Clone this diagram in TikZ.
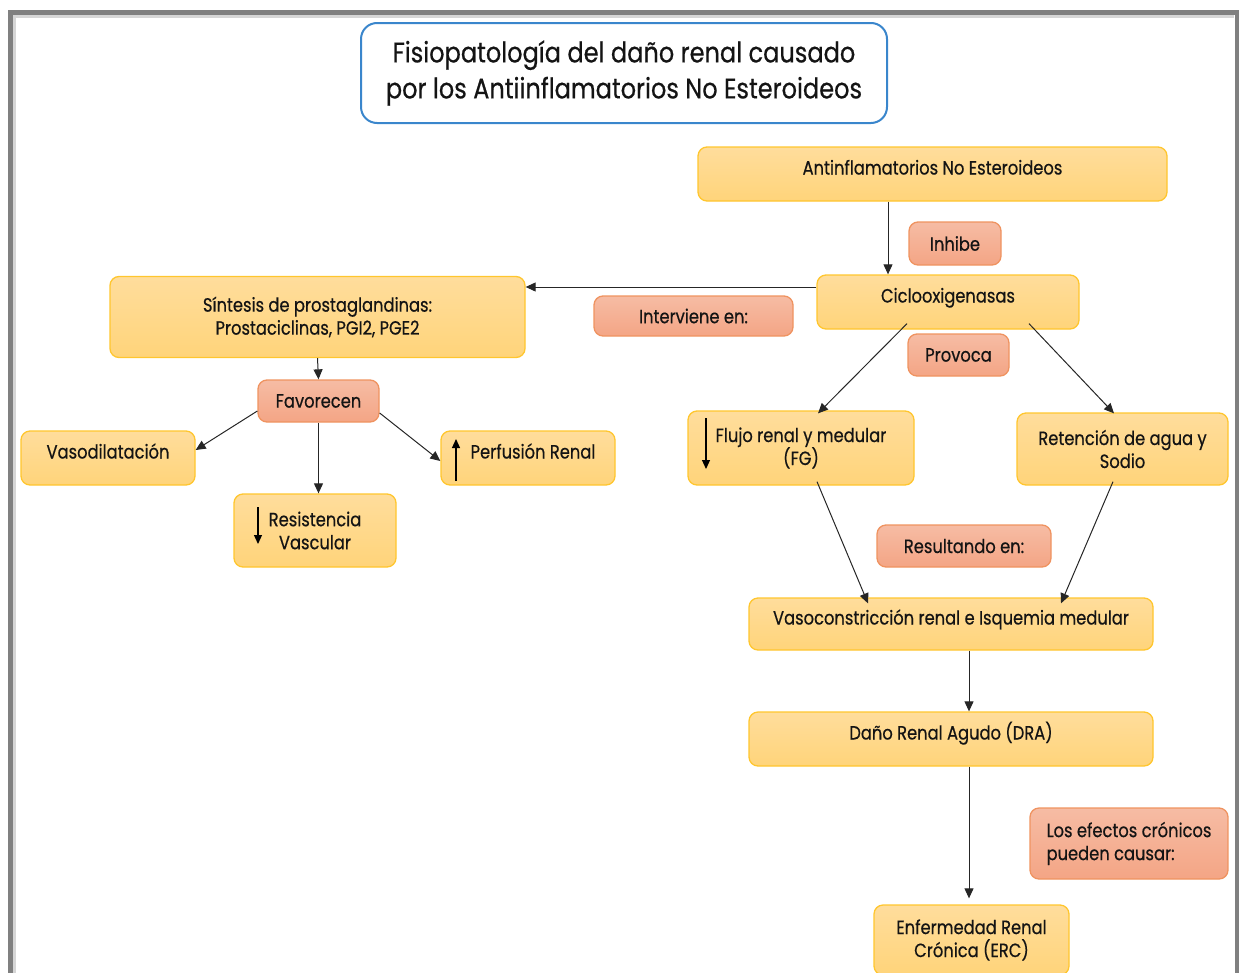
\documentclass[tikz,border=0pt]{standalone}
\usepackage{fontspec}
\setmainfont[FakeStretch=0.85,FakeBold=0.5]{Poppins}
\usetikzlibrary{arrows.meta}
\definecolor{ytop}{HTML}{FFDD9C}
\definecolor{ybot}{HTML}{FFD47A}
\definecolor{ybord}{HTML}{FFC62E}
\definecolor{stop}{HTML}{F6BCA4}
\definecolor{sbot}{HTML}{F4A585}
\definecolor{sbord}{HTML}{EF9360}
\definecolor{tblue}{HTML}{3A86CC}
\definecolor{txt}{HTML}{141414}
\definecolor{frameg}{HTML}{808080}
\definecolor{framel}{HTML}{D6D6D6}
\begin{document}
\begin{tikzpicture}[x=1pt,y=-1pt,
  box/.style={rounded corners=9pt, line width=1.3pt, text=txt, font=\fontsize{19.2}{23}\selectfont, inner sep=0pt, align=center},
  ybox/.style={box, draw=ybord, top color=ytop, bottom color=ybot},
  sbox/.style={box, draw=sbord, top color=stop, bottom color=sbot},
  lift/.style={text height=11pt, text depth=10pt},
  conn/.style={-{Triangle[length=10pt,width=9pt]}, line width=1pt, draw=black!85},
  tick/.style={-{Triangle[length=9pt,width=8pt]}, line width=1.2pt, draw=black},
]
\useasboundingbox (0,0) rectangle (1239,972);
\clip (0,0) rectangle (1239,972);
% frame
\draw[framel, line width=3pt] (14.5,1000) -- (14.5,16) -- (1234,16);
\draw[frameg, line width=5pt] (10,1000) -- (10,12.5) -- (1237,12.5) -- (1237,1000);

% title
\node[draw=tblue, line width=2pt, rounded corners=16pt, fill=white, minimum width=526pt, minimum height=100pt, font=\fontsize{28.3}{36}\selectfont, align=center, text=txt, inner sep=0pt] (title) at (624,73) {Fisiopatología del daño renal causado\\por los Antiinflamatorios No Esteroideos};

% yellow boxes
\node[ybox, lift, minimum width=469pt, minimum height=54pt] (aine) at (932.5,174) {Antinflamatorios No Esteroideos};
\node[ybox, lift, minimum width=262pt, minimum height=54pt] (ciclo) at (948,302) {Ciclooxigenasas};
\node[ybox, minimum width=415pt, minimum height=81pt] (sint) at (317.5,317) {Síntesis de prostaglandinas:\\Prostaciclinas, PGI2, PGE2};
\node[ybox, lift, minimum width=174pt, minimum height=54pt] (vaso) at (108,458) {Vasodilatación};
\node[ybox, minimum width=162pt, minimum height=73pt] (res) at (315,530.5) {Resistencia\\Vascular};
\node[ybox, lift, minimum width=174pt, minimum height=54pt] (perf) at (528,458) {\hspace*{10pt}Perfusión Renal};
\node[ybox, minimum width=226pt, minimum height=74pt] (flujo) at (801,448) {Flujo renal y medular\\(FG)};
\node[ybox, minimum width=211pt, minimum height=72pt] (ret) at (1122.5,449) {Retención de agua y\\Sodio};
\node[ybox, lift, minimum width=404pt, minimum height=52pt] (vasoc) at (951,624) {Vasoconstricción renal e Isquemia medular};
\node[ybox, lift, minimum width=404pt, minimum height=54pt] (dra) at (951,739) {Daño Renal Agudo (DRA)};
\node[ybox, minimum width=195pt, minimum height=70pt] (erc) at (971.5,940) {Enfermedad Renal\\Crónica (ERC)};

% salmon boxes
\node[sbox, minimum width=92pt, minimum height=43pt] (inhibe) at (955,243.5) {Inhibe};
\node[sbox, minimum width=199pt, minimum height=40pt] (interv) at (693.5,316) {Interviene en:};
\node[sbox, minimum width=101pt, minimum height=42pt] (provoca) at (958.5,355) {Provoca};
\node[sbox, minimum width=121pt, minimum height=42pt] (fav) at (318.5,401) {Favorecen};
\node[sbox, minimum width=174pt, minimum height=42pt] (result) at (964,546) {Resultando en:};
\node[sbox, minimum width=198pt, minimum height=71pt, align=left] (efectos) at (1129,843.5) {Los efectos crónicos\\pueden causar:};

% arrows inside boxes
\draw[tick] (258,507) -- (258,544);
\draw[tick] (456,481) -- (456,439);
\draw[tick] (706,418) -- (706,469);

% connectors
\draw[conn] ([xshift=-44.5pt]aine.south) -- ([xshift=-60pt]ciclo.north);
\draw[conn] ([yshift=15pt]ciclo.west) -- ([yshift=30pt]sint.east);
\draw[conn] (sint.south) -- (fav.north);
\draw[conn] ([yshift=-10pt]fav.west) -- ([yshift=8pt]vaso.east);
\draw[conn] (fav.south) -- (fav.south |- res.north);
\draw[conn] ([yshift=-12pt]fav.east) -- ([yshift=-3pt]perf.west);
\draw[conn] ([xshift=-41pt,yshift=6pt]ciclo.south) -- ([xshift=17pt,yshift=-3pt]flujo.north);
\draw[conn] ([xshift=81pt,yshift=6pt]ciclo.south) -- ([xshift=-8.5pt,yshift=-1pt]ret.north);
\draw[conn] ([xshift=16pt,yshift=4pt]flujo.south) -- ([xshift=-83pt,yshift=-6pt]vasoc.north);
\draw[conn] ([xshift=-9.5pt,yshift=4pt]ret.south) -- ([xshift=110pt,yshift=-6pt]vasoc.north);
\draw[conn] ([xshift=18pt]vasoc.south) -- ([xshift=18pt]dra.north);
\draw[conn] ([xshift=18pt]dra.south) -- ([xshift=-2.5pt,yshift=6pt]erc.north);
\end{tikzpicture}
\end{document}
